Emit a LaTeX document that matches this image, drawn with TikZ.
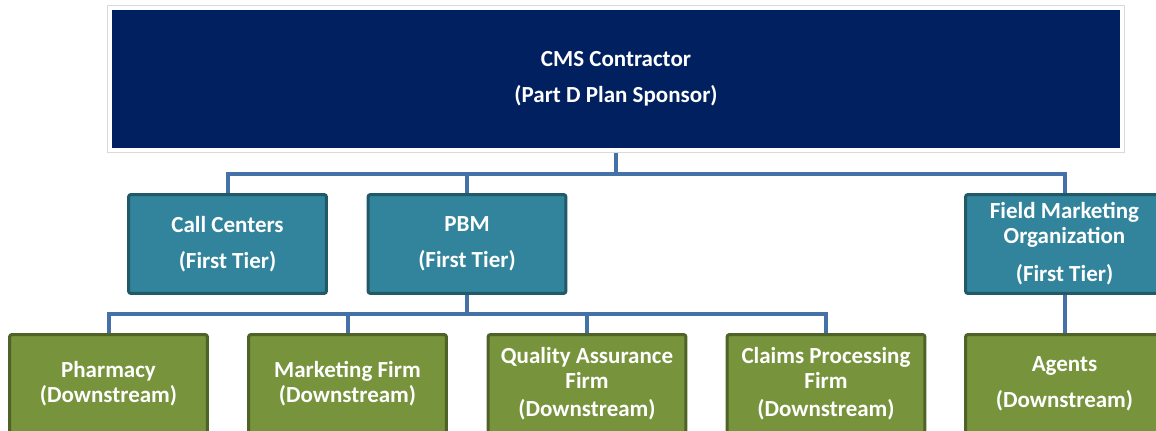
\documentclass[tikz,border=0pt]{standalone}
\usepackage{fontspec}
\setmainfont{Carlito}
\usetikzlibrary{fit}
\definecolor{cmsnavy}{RGB}{0,32,96}
\definecolor{tierfill}{RGB}{49,132,155}
\definecolor{tierline}{RGB}{33,89,104}
\definecolor{downfill}{RGB}{119,147,60}
\definecolor{downline}{RGB}{79,98,40}
\definecolor{linkblue}{RGB}{68,114,168}
\definecolor{framegray}{RGB}{217,217,217}
\begin{document}
\begin{tikzpicture}[x=0.02cm, y=-0.02cm,
    every node/.style={text=white, align=center, font=\bfseries\fontsize{13.1}{14.2}\selectfont},
    cmsbox/.style={fill=cmsnavy, minimum width=20.16cm, minimum height=2.76cm, inner sep=0pt},
    cmsframe/.style={draw=framegray, inner sep=0.09cm, line width=0.6pt},
    tierbox/.style={fill=tierfill, draw=tierline, line width=0.06cm, rounded corners=0.05cm,
        minimum width=3.96cm, minimum height=1.98cm, inner sep=0pt},
    downbox/.style={tierbox, fill=downfill, draw=downline},
    link/.style={draw=linkblue, line width=0.08cm}]
    \useasboundingbox (0,0) rectangle (1156,430);

    % Contratista principal
    \node[cmsbox] (cms) at (616,79) {CMS Contractor\\[6.3pt](Part D Plan Sponsor)};
    \node[cmsframe, fit=(cms)] (frame) {};

    % Primer nivel
    \node[tierbox] (cc) at (227.5,244) {Call Centers\\[6.3pt](First Tier)};
    \node[tierbox] (pbm) at (467,244) {PBM\\[6.3pt](First Tier)};
    \node[tierbox] (fmo) at (1064.5,244) {Field Marketing\\Organization\\[7.4pt](First Tier)};

    % Nivel downstream
    \node[downbox] (pharm) at (108.5,384) {Pharmacy\\(Downstream)};
    \node[downbox] (mkt) at (347.5,384) {Marketing Firm\\(Downstream)};
    \node[downbox] (qa) at (587,384) {Quality Assurance\\Firm\\[1.7pt](Downstream)};
    \node[downbox] (claims) at (826,384) {Claims Processing\\Firm\\[1.7pt](Downstream)};
    \node[downbox] (agents) at (1064.5,384) {Agents\\[6.3pt](Downstream)};

    % Conectores
    \coordinate (bus1) at (616,174);
    \coordinate (bus2) at (467,314);
    \foreach \n in {cc,pbm,fmo}
        \draw[link] (frame.south) -- (bus1) -| (\n.north);
    \foreach \n in {pharm,mkt,qa,claims}
        \draw[link] (pbm.south) -- (bus2) -| (\n.north);
    \draw[link] (fmo.south) -- (agents.north);
\end{tikzpicture}
\end{document}
